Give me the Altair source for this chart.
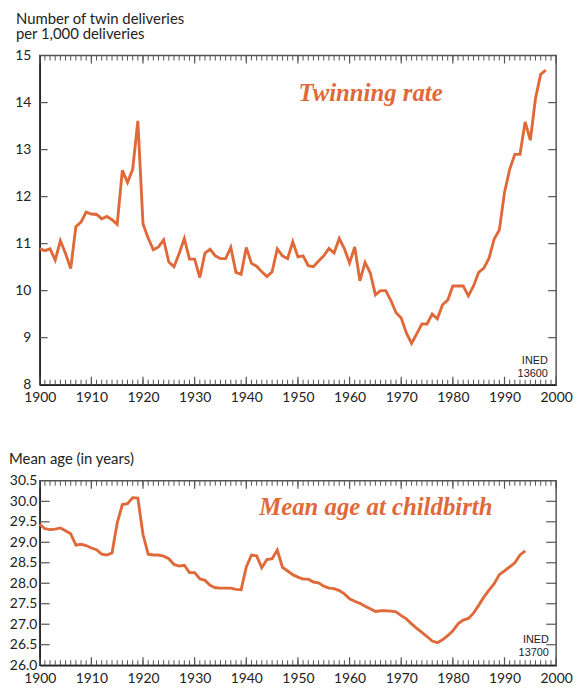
import altair as alt
import pandas as pd

# ---------------- data ----------------
twin_years = list(range(1900, 1999))
twin_rate = [10.89, 10.85, 10.89, 10.65, 11.06, 10.79, 10.47, 11.36, 11.46, 11.67,
             11.63, 11.62, 11.53, 11.58, 11.51, 11.41, 12.56, 12.30, 12.58, 13.61,
             11.42, 11.12, 10.87, 10.93, 11.08, 10.61, 10.51, 10.79, 11.11, 10.67,
             10.67, 10.28, 10.80, 10.88, 10.74, 10.68, 10.68, 10.92, 10.39, 10.35,
             10.92, 10.58, 10.52, 10.40, 10.30, 10.40, 10.89, 10.74, 10.68, 11.04,
             10.72, 10.74, 10.53, 10.51, 10.63, 10.74, 10.90, 10.80, 11.11, 10.89,
             10.59, 10.93, 10.21, 10.60, 10.38, 9.91, 10.00, 10.00, 9.79, 9.53,
             9.42, 9.10, 8.88, 9.08, 9.29, 9.29, 9.50, 9.40, 9.70, 9.80,
             10.10, 10.10, 10.10, 9.89, 10.10, 10.39, 10.48, 10.69, 11.10, 11.29,
             12.09, 12.58, 12.90, 12.90, 13.59, 13.20, 14.09, 14.60, 14.69]

age_years = list(range(1900, 1995))
mean_age = [29.44, 29.33, 29.31, 29.32, 29.35, 29.28, 29.21, 28.93, 28.95, 28.92,
            28.86, 28.82, 28.71, 28.69, 28.74, 29.47, 29.92, 29.94, 30.09, 30.08,
            29.19, 28.71, 28.69, 28.69, 28.66, 28.60, 28.46, 28.42, 28.44, 28.26,
            28.26, 28.11, 28.07, 27.95, 27.89, 27.88, 27.88, 27.88, 27.85, 27.84,
            28.40, 28.69, 28.67, 28.38, 28.58, 28.60, 28.81, 28.39, 28.30, 28.21,
            28.15, 28.10, 28.10, 28.03, 28.01, 27.93, 27.88, 27.87, 27.82, 27.74,
            27.62, 27.56, 27.51, 27.44, 27.38, 27.31, 27.33, 27.33, 27.32, 27.30,
            27.21, 27.13, 27.01, 26.90, 26.80, 26.70, 26.59, 26.55, 26.62, 26.72,
            26.84, 27.01, 27.10, 27.14, 27.27, 27.46, 27.66, 27.83, 27.99, 28.21,
            28.30, 28.40, 28.50, 28.69, 28.79]

major_years = [1900, 1910, 1920, 1930, 1940, 1950, 1960, 1970, 1980, 1990, 2000]
minor_years = list(range(1900, 2001))
twin_ticks = [8, 9, 10, 11, 12, 13, 14, 15]
age_ticks = [26.0, 26.5, 27.0, 27.5, 28.0, 28.5, 29.0, 29.5, 30.0, 30.5]

twin_title = ["Number of twin deliveries", "per 1,000 deliveries"]
age_title = "Mean age (in years)"
twin_label = ["Twinning rate"]
age_label = ["Mean age at childbirth"]
twin_ined = ["INED", "13600"]
age_ined = ["INED", "13700"]

# ---------------- style ----------------
W = 521
H1 = 332
H2 = 186
LINE = "#E0693A"
FONT = "Lato"
INK = "#222222"
TICK = "#555555"

xscale = alt.Scale(domain=[1900, 2000], nice=False, zero=False)


def panel(df, yfield, yscale, yfmt, ylabpad, xlabpad, H, yvals, ytick_vals, ylen,
          label, label_pos, ined, ined_pos):
    xaxis = alt.Axis(values=major_years, format="d", ticks=False, grid=False,
                     title=None, labelPadding=xlabpad, labelFlush=False,
                     orient="bottom")
    yaxis = alt.Axis(values=yvals, format=yfmt, ticks=False, grid=False,
                     title=None, labelPadding=ylabpad, labelFlush=False,
                     orient="left")

    line = alt.Chart(df).mark_line(color=LINE, strokeWidth=2.9).encode(
        x=alt.X("year:Q", scale=xscale, axis=xaxis),
        y=alt.Y(f"{yfield}:Q", scale=yscale, axis=yaxis),
    )

    X = alt.X("year:Q", scale=xscale, axis=None)
    Y = alt.Y(f"{yfield}:Q", scale=yscale, axis=None)

    minor = alt.Chart(pd.DataFrame({"year": minor_years})).mark_rule(
        color=TICK, strokeWidth=1)
    major = alt.Chart(pd.DataFrame({"year": major_years})).mark_rule(
        color=TICK, strokeWidth=1.2)
    yt = alt.Chart(pd.DataFrame({yfield: ytick_vals})).mark_rule(
        color=TICK, strokeWidth=1.2)
    ticks = [
        minor.encode(x=X, y=alt.value(0), y2=alt.value(5)),
        minor.encode(x=X, y=alt.value(H), y2=alt.value(H - 5)),
        major.encode(x=X, y=alt.value(0), y2=alt.value(8)),
        major.encode(x=X, y=alt.value(H), y2=alt.value(H - 8)),
        yt.encode(y=Y, x=alt.value(0), x2=alt.value(ylen)),
        yt.encode(y=Y, x=alt.value(W), x2=alt.value(W - ylen)),
    ]

    def XD(v):
        return alt.XDatum(v, type="quantitative", scale=xscale, axis=None)

    def YD(v):
        return alt.YDatum(v, type="quantitative", scale=yscale, axis=None)

    big = alt.Chart(pd.DataFrame({"t": label})).mark_text(
        font="Liberation Serif", fontStyle="italic", fontWeight="bold",
        fontSize=25, color=LINE, align="left", baseline="alphabetic",
    ).encode(x=XD(label_pos[0]), y=YD(label_pos[1]), text="t:N")

    small = dict(font="Liberation Sans Narrow, Liberation Sans, Arial", fontSize=11,
                 color=INK, align="right", baseline="alphabetic")
    ined_layers = [
        alt.Chart(pd.DataFrame({"t": [ined[i]]})).mark_text(**small).encode(
            x=XD(ined_pos[0]), y=YD(ined_pos[1 + i]), text="t:N")
        for i in range(2)
    ]
    return alt.layer(line, *ticks, big, *ined_layers).resolve_axis(
        x="independent", y="independent")


# ---------------- top chart ----------------
twin_df = pd.DataFrame({"year": twin_years, "rate": twin_rate})
tscale = alt.Scale(domain=[8, 15], nice=False, zero=False)

top = panel(twin_df, "rate", tscale, "d", 9, 6, H1, twin_ticks, twin_ticks[1:-1], 8,
            twin_label, (1950.1, 14.04), twin_ined, (1998.4, 8.45, 8.17)).properties(
    width=W, height=H1,
    title=alt.Title(twin_title, anchor="start", frame="group", dx=-24, offset=-8,
                    baseline="bottom", lineHeight=15, fontSize=15, font=FONT,
                    fontWeight="normal", color=INK),
)

# ---------------- bottom chart ----------------
age_df = pd.DataFrame({"year": age_years, "age": mean_age})
ascale = alt.Scale(domain=[26, 30.5], nice=False, zero=False)

bottom = panel(age_df, "age", ascale, ".1f", 3, 6, H2, age_ticks, age_ticks[1:-1], 10,
               age_label, (1942.5, 29.66), age_ined, (1998.6, 26.53, 26.22)).properties(
    width=W, height=H2,
    title=alt.Title(age_title, anchor="start", frame="group", dx=-31, offset=-8,
                    baseline="bottom", fontSize=15, font=FONT,
                    fontWeight="normal", color=INK),
)

chart = alt.vconcat(top, bottom, spacing=97, bounds="flush").properties(
    padding={"left": 0, "top": 0, "right": 0, "bottom": 0}
).configure_view(
    stroke="#555555", strokeWidth=1.5
).configure_axis(
    labelFont=FONT, labelFontSize=14, labelColor=INK,
    domainColor=INK, domainWidth=1.5,
)

chart.save("out.html", embed_options={"renderer": "svg", "actions": False})
